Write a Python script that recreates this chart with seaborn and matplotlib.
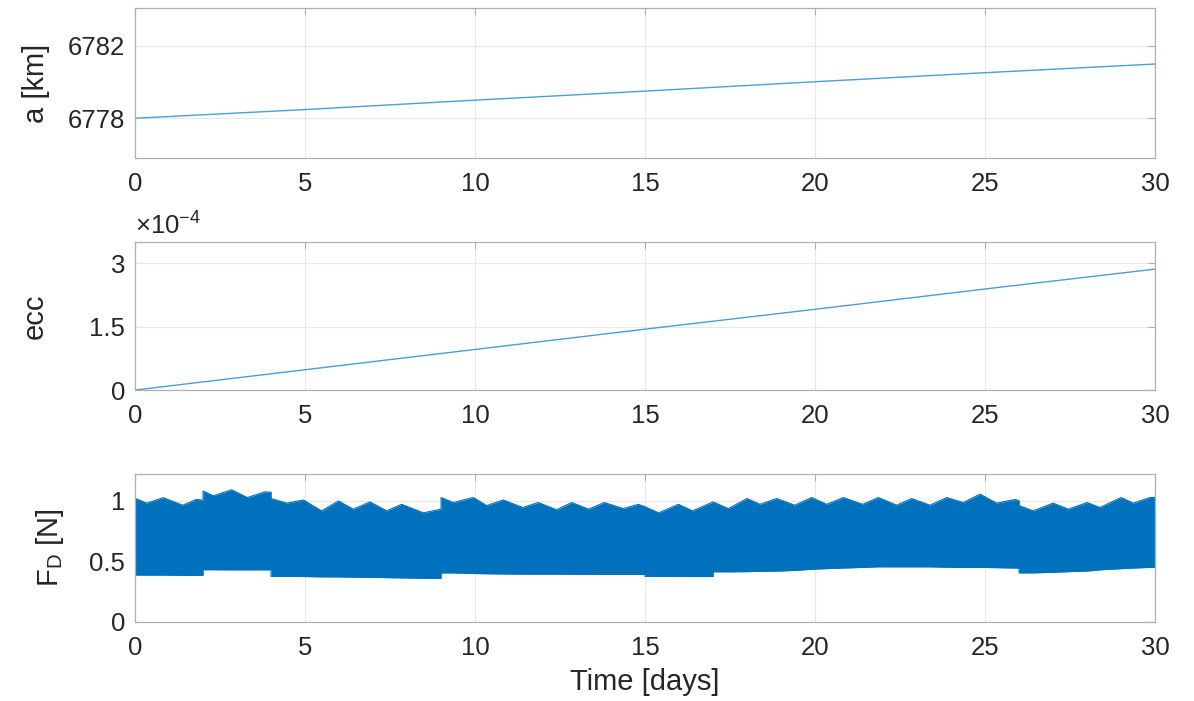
import numpy as np
import matplotlib
matplotlib.use('Agg')
import matplotlib.pyplot as plt
import seaborn as sns
from matplotlib.ticker import FuncFormatter

# semi-major axis [km] (read at 5-day steps)
a_days = [0, 5, 10, 15, 20, 25, 30]
a_km = [6778.0, 6778.48, 6779.0, 6779.5, 6780.02, 6780.52, 6781.0]

# eccentricity
ecc_days = [0, 5, 10, 15, 20, 25, 30]
ecc_vals = [0.0, 0.48e-4, 0.96e-4, 1.44e-4, 1.91e-4, 2.39e-4, 2.86e-4]

# drag force envelope [N] (upper / lower edge of the orbital oscillation)
fd_days = [0, 0.34, 0.83, 1.4, 1.8, 2.0, 2.0, 2.3, 2.84, 3.3, 3.82, 4.0, 4.0,
           4.46, 4.95, 5.49, 5.98, 6.42, 6.91, 7.4, 7.84, 8.48, 9.0, 9.0,
           9.36, 9.95, 10.34, 10.83, 11.4, 11.86, 12.4, 12.84, 13.34, 13.8,
           14.36, 14.8, 15.0, 15.0, 15.4, 15.98, 16.4, 17.0, 17.0, 17.45, 18.0,
           18.38, 18.87, 19.4, 19.9, 20.34, 20.83, 21.4, 21.86, 22.4, 22.84,
           23.38, 23.87, 24.36, 24.85, 25.34, 25.88, 26.0, 26.0, 26.42, 27.0,
           27.45, 28.0, 28.38, 29.0, 29.36, 29.85, 30.0]
fd_upper = [1.02, 0.98, 1.025, 0.963, 1.01, 1.005, 1.08, 1.04, 1.09, 1.026, 1.073, 1.07, 1.018,
            0.98, 1.006, 0.916, 0.998, 0.93, 0.99, 0.916, 0.97, 0.90, 0.93, 1.026,
            0.985, 1.026, 0.96, 1.006, 0.944, 0.985, 0.925, 0.985, 0.93, 0.985,
            0.935, 0.97, 0.95, 0.95, 0.90, 0.97, 0.916, 0.99, 0.99, 0.935, 1.018,
            0.97, 1.018, 0.963, 1.026, 0.97, 1.026, 0.97, 1.026, 0.963, 1.018,
            0.963, 1.026, 0.985, 1.054, 0.98, 1.01, 1.0, 0.96, 0.916, 0.98,
            0.93, 0.985, 0.944, 1.026, 0.98, 1.026, 1.026]
fd_lower = [0.387, 0.387, 0.387, 0.385, 0.385, 0.385, 0.431, 0.431, 0.43, 0.43, 0.43, 0.43, 0.376,
            0.376, 0.375, 0.372, 0.372, 0.37, 0.368, 0.366, 0.364, 0.36, 0.36, 0.405,
            0.405, 0.40, 0.398, 0.396, 0.395, 0.395, 0.395, 0.394, 0.393, 0.392,
            0.392, 0.392, 0.392, 0.376, 0.376, 0.375, 0.375, 0.375, 0.414, 0.414, 0.415,
            0.418, 0.42, 0.425, 0.435, 0.44, 0.445, 0.45, 0.455, 0.455, 0.455,
            0.455, 0.452, 0.45, 0.45, 0.448, 0.445, 0.445, 0.405, 0.405, 0.41,
            0.415, 0.42, 0.43, 0.44, 0.445, 0.45, 0.45]

line_color = '#4a9fd4'
band_color = '#0072BD'
grid_color = '#e8e8e8'
frame_color = '#b0b0b0'
text_color = '#262626'

sns.set_style('white')
plt.rcParams['font.family'] = ['Liberation Sans', 'DejaVu Sans']
plt.rcParams['mathtext.fontset'] = 'custom'
plt.rcParams['mathtext.rm'] = 'Liberation Sans'
plt.rcParams['mathtext.it'] = 'Liberation Sans'
TICK_FS = 18.5
LABEL_FS = 21

fig = plt.figure(figsize=(11.94, 7.01), dpi=100)
left, width = 0.1131, 0.8543
ax1 = fig.add_axes([left, 0.7746, width, 0.2140])
ax2 = fig.add_axes([left, 0.4436, width, 0.2111])
ax3 = fig.add_axes([left, 0.1127, width, 0.2111])

sns.lineplot(x=a_days, y=a_km, ax=ax1, color=line_color, lw=1.0)
sns.lineplot(x=ecc_days, y=np.array(ecc_vals) * 1e4, ax=ax2, color=line_color, lw=1.0)

# drag force: band between the read upper and lower edges
ax3.fill_between(fd_days, fd_lower, fd_upper, color=band_color, lw=0)
sns.lineplot(x=fd_days, y=fd_upper, ax=ax3, color=band_color, lw=0.8,
             estimator=None, sort=False)
sns.lineplot(x=fd_days, y=fd_lower, ax=ax3, color=band_color, lw=0.8,
             estimator=None, sort=False)

ax1.set_ylim(6775.8, 6784.1)
ax1.set_yticks([6778, 6782])
ax1.set_ylabel('a [km]', fontsize=LABEL_FS, color=text_color)

ax2.set_ylim(0, 3.5)
ax2.set_yticks([0, 1.5, 3])
ax2.yaxis.set_major_formatter(FuncFormatter(lambda v, p: f'{v:g}'))
ax2.set_ylabel('ecc', fontsize=LABEL_FS, color=text_color)
ax2.text(0.0, 1.015, r'$\times$10$^{-4}$', transform=ax2.transAxes,
         fontsize=TICK_FS, color=text_color, ha='left', va='bottom')

ax3.set_ylim(0, 1.22)
ax3.set_yticks([0, 0.5, 1])
ax3.yaxis.set_major_formatter(FuncFormatter(lambda v, p: f'{v:g}'))
ax3.set_ylabel(r'F$_\mathregular{D}$ [N]', fontsize=LABEL_FS, color=text_color)
ax3.set_xlabel('Time [days]', fontsize=LABEL_FS, color=text_color, labelpad=6)

for ax in (ax1, ax2, ax3):
    ax.set_xlim(0, 30)
    ax.set_xticks([0, 5, 10, 15, 20, 25, 30])
    ax.grid(True, color=grid_color, lw=0.8)
    ax.set_axisbelow(True)
    ax.tick_params(direction='in', length=5, width=0.8, color=frame_color,
                   labelsize=TICK_FS, labelcolor=text_color, top=True, right=True)
    ax.tick_params(axis='x', pad=10)
    ax.tick_params(axis='y', pad=7)
    for sp in ax.spines.values():
        sp.set_color(frame_color)
        sp.set_linewidth(0.9)
    if ax is not ax3:
        ax.set_xlabel('')

ax1.yaxis.set_label_coords(-0.083, 0.5)
ax2.yaxis.set_label_coords(-0.085, 0.5)
ax3.yaxis.set_label_coords(-0.068, 0.5)

fig.savefig('out.png', dpi=100)
